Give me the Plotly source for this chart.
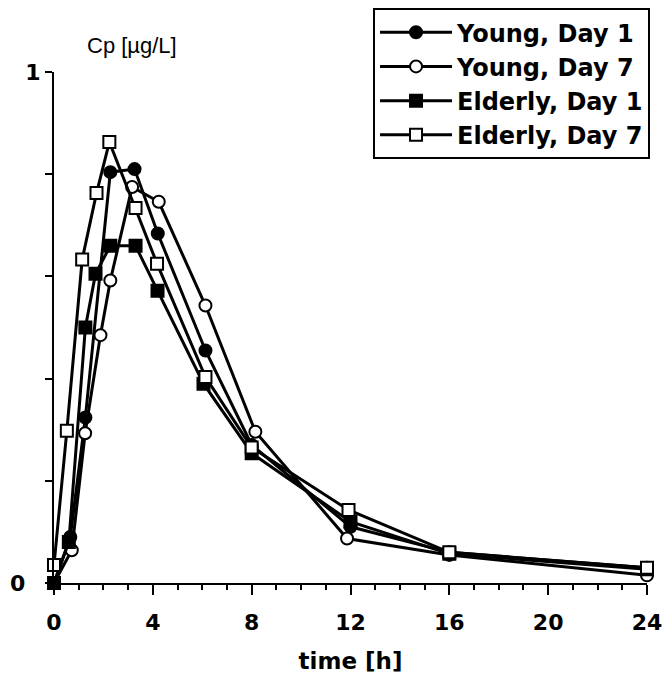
import plotly.graph_objects as go

# ---- data ----
young_d1_t = [0, 0.66, 1.27, 2.28, 3.26, 4.2, 6.13, 8.0, 12.0, 16.0, 24.0]
young_d1_c = [0.0, 0.09, 0.324, 0.804, 0.81, 0.684, 0.455, 0.27, 0.11, 0.06, 0.03]

young_d7_t = [0, 0.72, 1.26, 1.88, 2.28, 3.16, 4.24, 6.13, 8.15, 11.86, 16.0, 24.0]
young_d7_c = [0.0, 0.064, 0.293, 0.485, 0.592, 0.775, 0.746, 0.543, 0.296, 0.087, 0.055, 0.015]

elderly_d1_t = [0, 0.6, 1.27, 1.68, 2.28, 3.3, 4.19, 6.05, 8.0, 12.0, 16.0, 24.0]
elderly_d1_c = [0.0, 0.08, 0.50, 0.605, 0.66, 0.66, 0.572, 0.39, 0.254, 0.12, 0.057, 0.027]

elderly_d7_t = [0, 0.52, 1.14, 1.72, 2.24, 3.3, 4.17, 6.13, 8.0, 11.92, 16.0, 24.0]
elderly_d7_c = [0.035, 0.298, 0.633, 0.763, 0.863, 0.734, 0.625, 0.403, 0.265, 0.143, 0.06, 0.03]

series_names = ["Young, Day 1", "Young, Day 7", "Elderly, Day 1", "Elderly, Day 7"]

x_tick_vals = [0, 4, 8, 12, 16, 20, 24]
x_tick_text = ["0", "4", "8", "12", "16", "20", "24"]
y_tick_vals = [0, 0.2, 0.4, 0.6, 0.8, 1.0]
y_tick_text = ["0\u00a0\u00a0", "", "", "", "", "1"]

# ---- figure ----
BOLD = "DejaVu Sans"
fig = go.Figure()

styles = [
    dict(symbol="circle", color="black"),
    dict(symbol="circle", color="white"),
    dict(symbol="square", color="black"),
    dict(symbol="square", color="white"),
]
data = [
    (young_d1_t, young_d1_c),
    (young_d7_t, young_d7_c),
    (elderly_d1_t, elderly_d1_c),
    (elderly_d7_t, elderly_d7_c),
]

for name, (t, c), st in zip(series_names, data, styles):
    fig.add_trace(go.Scatter(
        x=t, y=c, name=name, mode="lines+markers",
        line=dict(color="black", width=3),
        marker=dict(symbol=st["symbol"], size=12, color=st["color"],
                    line=dict(color="black", width=2)),
        cliponaxis=False,
    ))

fig.update_layout(
    width=670, height=681,
    margin=dict(l=54, r=23, t=72, b=98, autoexpand=False),
    paper_bgcolor="white", plot_bgcolor="white",
    showlegend=True,
    legend=dict(
        x=0.538, y=1.125, xanchor="left", yanchor="top",
        bordercolor="black", borderwidth=2, bgcolor="white",
        font=dict(family=BOLD, size=24, color="black", weight="bold"),
        itemwidth=72, tracegroupgap=0,
    ),
    xaxis=dict(
        range=[0, 24], showgrid=False, zeroline=False, automargin=False,
        showline=True, linecolor="black", linewidth=2,
        ticks="outside", ticklen=10, tickwidth=2, tickcolor="black",
        tickvals=x_tick_vals, ticktext=x_tick_text,
        ticklabelstandoff=9,
        tickfont=dict(family=BOLD, size=22, color="black", weight="bold"),
        minor=dict(dtick=1, ticks="outside", ticklen=5, tickwidth=2, tickcolor="black"),
        title=dict(text="time [h]", standoff=18,
                   font=dict(family=BOLD, size=23, color="black", weight="bold")),
    ),
    yaxis=dict(
        range=[0, 1], showgrid=False, zeroline=False, automargin=False,
        showline=True, linecolor="black", linewidth=2,
        ticks="outside", ticklen=7, tickwidth=2, tickcolor="black",
        tickvals=y_tick_vals, ticktext=y_tick_text,
        ticklabelstandoff=0,
        tickfont=dict(family=BOLD, size=22, color="black", weight="bold"),
    ),
    annotations=[dict(
        text="Cp [µg/L]", xref="paper", yref="paper",
        x=0.1315, y=1.052, xanchor="center", yanchor="middle",
        showarrow=False,
        font=dict(family="Liberation Sans", size=22, color="black"),
    )],
)

fig.write_html("out.html")
